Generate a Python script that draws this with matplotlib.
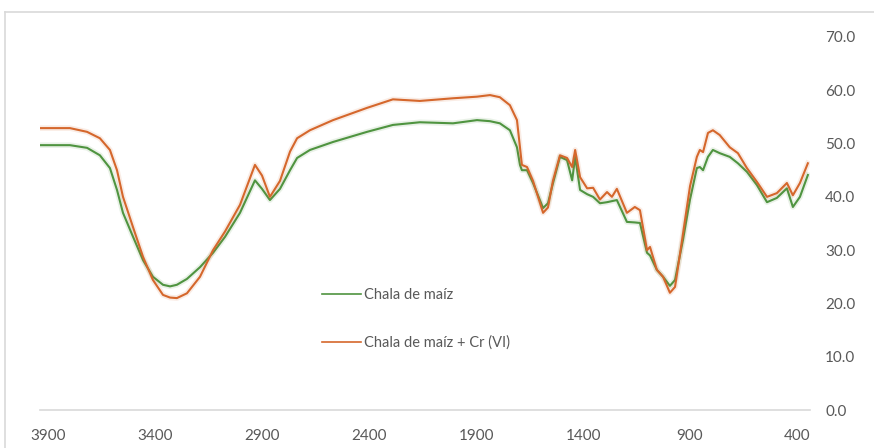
import matplotlib
matplotlib.use("Agg")
import matplotlib.pyplot as plt
import matplotlib.patheffects as pe
import matplotlib.transforms as mtransforms
from matplotlib.lines import Line2D

# Wavenumber (cm-1)
wavenumber = [4000, 3860, 3780, 3720, 3673, 3640, 3612, 3565, 3518, 3472, 3425, 3392,
              3360, 3313, 3252, 3191, 3135, 3065, 2995, 2962, 2925, 2878, 2831, 2798,
              2738, 2630, 2471, 2350, 2224, 2069, 1957, 1896, 1850, 1803, 1770, 1756,
              1747, 1723, 1695, 1648, 1625, 1602, 1569, 1536, 1512, 1498, 1475, 1442,
              1414, 1382, 1349, 1326, 1303, 1256, 1219, 1195, 1162, 1148, 1116, 1087,
              1055, 1031, 994, 961, 929, 915, 900, 877, 854, 822, 775, 737, 695, 648,
              601, 555, 508, 480, 447, 410]

chala = [49.7, 49.7, 49.2, 47.8, 45.4, 41.3, 37.0, 32.5, 28.1, 25.0, 23.5, 23.2,
         23.5, 24.6, 26.8, 29.5, 32.5, 37.0, 43.1, 41.5, 39.4, 41.5, 45.0, 47.3,
         48.8, 50.3, 52.2, 53.5, 54.0, 53.8, 54.4, 54.2, 53.8, 52.5, 49.3, 46.0,
         45.0, 45.0, 42.6, 37.9, 38.8, 42.5, 47.5, 46.9, 43.1, 47.5, 41.3, 40.5,
         40.0, 38.8, 39.0, 39.2, 39.4, 35.3, 35.2, 35.1, 29.5, 29.0, 26.3, 25.0,
         23.3, 24.4, 31.9, 39.5, 45.4, 45.6, 45.0, 47.5, 48.8, 48.2, 47.5, 46.3,
         44.7, 42.2, 39.0, 39.8, 41.6, 38.1, 40.0, 44.1]

chala_cr = [52.9, 52.9, 52.2, 51.0, 48.8, 45.0, 40.0, 34.3, 28.7, 24.4, 21.6, 21.1,
            21.0, 21.9, 25.0, 30.0, 33.5, 38.5, 46.0, 44.0, 40.0, 43.0, 48.5, 51.0,
            52.5, 54.4, 56.7, 58.3, 58.0, 58.5, 58.8, 59.1, 58.7, 57.2, 54.4, 49.3,
            46.0, 45.6, 43.0, 37.0, 38.0, 43.0, 47.8, 47.3, 45.6, 48.8, 43.7, 41.6,
            41.7, 39.5, 40.9, 40.0, 41.5, 37.0, 38.1, 37.5, 30.0, 30.6, 26.3, 25.0,
            22.0, 23.1, 33.0, 42.0, 47.5, 48.8, 48.4, 52.0, 52.5, 51.6, 49.3, 48.2,
            45.4, 42.8, 40.0, 40.7, 42.6, 40.3, 42.6, 46.3]

series_labels = ["Chala de maíz", "Chala de maíz + Cr (VI)"]
x_ticks = [3900, 3400, 2900, 2400, 1900, 1400, 900, 400]
y_ticks = [0, 10, 20, 30, 40, 50, 60, 70]

plt.rcParams['font.family'] = ['Lato', 'DejaVu Sans']

fig = plt.figure(figsize=(8.74, 4.48), dpi=100)
ax = fig.add_axes([40/874, 1-410/448, 770/874, 373/448])

green = '#4f9440'
orange = '#d5672c'

for data, col, lab in [(chala, green, series_labels[0]), (chala_cr, orange, series_labels[1])]:
    ax.plot(wavenumber, data, color=col, lw=1.5, label=lab, solid_joinstyle='round',
            path_effects=[pe.Stroke(linewidth=4, foreground=col, alpha=0.12), pe.Normal()])

ax.set_xlim(4000, 400)
ax.set_ylim(0, 70)
ax.set_xticks(x_ticks)
ax.set_xticklabels([str(v) for v in x_ticks])
ax.set_yticks(y_ticks)
ax.set_yticklabels([f"{v:.1f}" for v in y_ticks])
ax.yaxis.tick_right()
ax.tick_params(axis='both', length=0, labelsize=11, colors='#595959')
ax.tick_params(axis='y', pad=11)
ax.tick_params(axis='x', pad=14)
shift = mtransforms.ScaledTranslation(-13/100, 0, fig.dpi_scale_trans)
for lbl in ax.get_xticklabels():
    lbl.set_transform(lbl.get_transform() + shift)
for s in ['top', 'left', 'right']:
    ax.spines[s].set_visible(False)
ax.spines['bottom'].set_color('#d9d9d9')
ax.spines['bottom'].set_linewidth(1.2)

leg = ax.legend(loc='upper left', bbox_to_anchor=(322/874, 1-288/448),
                bbox_transform=fig.transFigure, frameon=False, fontsize=10.5,
                handlelength=2.7, handletextpad=0.2, labelspacing=2.3,
                borderpad=0, borderaxespad=0)
for t in leg.get_texts():
    t.set_color('#595959')
for h in leg.get_lines():
    h.set_path_effects([])
    h.set_linewidth(1.2)

# chart-area border (partially visible)
fig.add_artist(Line2D([5/874, 1], [1-12/448, 1-12/448], transform=fig.transFigure,
                      color='#d9d9d9', lw=1.2))
fig.add_artist(Line2D([5/874, 5/874], [0, 1-12/448], transform=fig.transFigure,
                      color='#d9d9d9', lw=1.2))

fig.savefig('out.png', dpi=100)
